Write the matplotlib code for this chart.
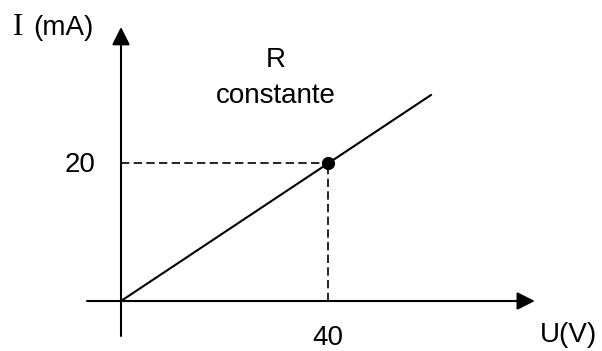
import matplotlib
matplotlib.use('Agg')
import matplotlib.pyplot as plt

# data
u_line = [0, 60]          # V
i_line = [0, 30]          # mA
u_point = 40
i_point = 20
x_label = 'U(V)'
y_label = '(mA)'
note_lines = ['R', 'constante']

plt.rcParams['font.family'] = 'Liberation Sans'

fig = plt.figure(figsize=(6.02, 3.51), dpi=100)
ax = fig.add_axes([0, 0, 1, 1])
ax.set_xlim(-23.36, 92.86)
ax.set_ylim(-7.26, 43.72)
ax.axis('off')

arrow = dict(arrowstyle='-|>,head_length=1.08,head_width=0.54', mutation_scale=10,
             lw=1.5, color='black', shrinkA=0, shrinkB=0)
# axes with arrows
ax.annotate('', xy=(79.9, 0), xytext=(-6.56, 0), arrowprops=arrow)
ax.annotate('', xy=(0, 39.8), xytext=(0, -5.08), arrowprops=arrow)

# characteristic line and point
ax.plot(u_line, i_line, color='black', lw=1.5, solid_capstyle='butt')
ax.plot([0, u_point], [i_point, i_point], color='black', lw=1.2, ls=(0, (5, 2.6)))
ax.plot([u_point, u_point], [0, i_point], color='black', lw=1.2, ls=(0, (5, 2.6)))
ax.plot([u_point], [i_point], 'o', color='black', ms=8.5)

fs = 20
ax.text(-5.0, i_point - 1.26, str(i_point), fontsize=fs, ha='right', va='baseline')
ax.text(u_point, -6.39, str(u_point), fontsize=fs, ha='center', va='baseline')
ax.text(80.9, -5.95, x_label, fontsize=fs, ha='left', va='baseline')
ax.text(-20.85, 38.63, 'I', fontsize=22, family='Liberation Serif', ha='left', va='baseline')
ax.text(-16.99, 38.63, y_label, fontsize=fs, ha='left', va='baseline')
ax.text(29.9, 33.99, note_lines[0], fontsize=fs, ha='center', va='baseline')
ax.text(29.9, 28.76, note_lines[1], fontsize=fs, ha='center', va='baseline')

fig.savefig('out.png', dpi=100)
